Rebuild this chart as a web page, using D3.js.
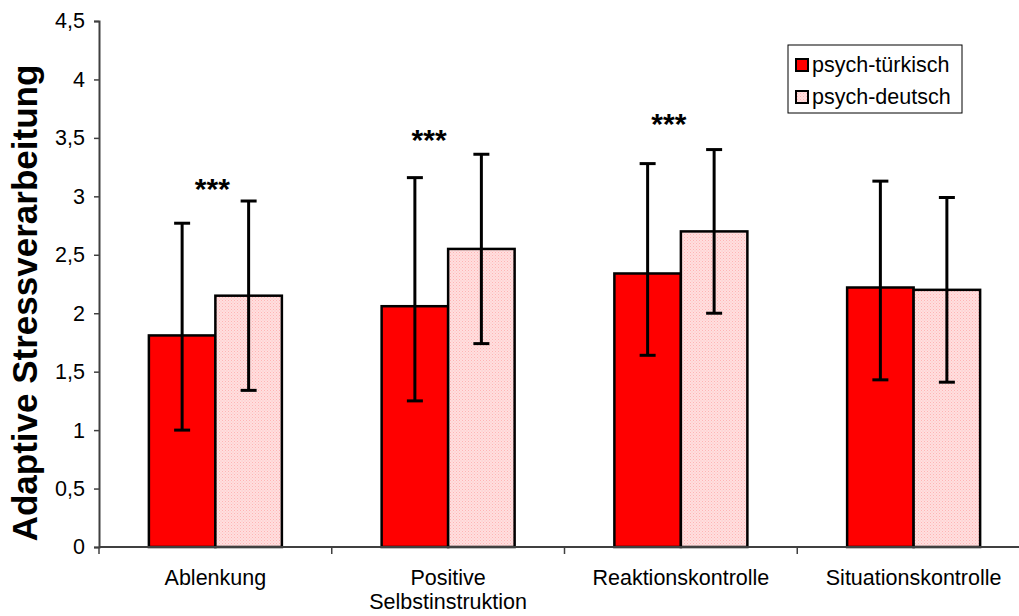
<!DOCTYPE html>
<html>
<head>
<meta charset="utf-8">
<script src="https://cdn.jsdelivr.net/npm/d3@7"></script>
<style>
  body { margin: 0; background: #ffffff; }
  text { font-family: "Liberation Sans", Arial, sans-serif; }
</style>
</head>
<body>
<svg id="chart" width="1019" height="616"></svg>
<script>
// Coping scores by strategy, two groups, with error bars
const categories = ["Ablenkung", "Positive\nSelbstinstruktion", "Reaktionskontrolle", "Situationskontrolle"];
const seriesNames = ["psych-türkisch", "psych-deutsch"];
const meansTuerkisch = [1.81, 2.06, 2.34, 2.22];
const meansDeutsch   = [2.15, 2.55, 2.70, 2.20];
const lowTuerkisch   = [1.00, 1.25, 1.64, 1.43];
const highTuerkisch  = [2.77, 3.16, 3.28, 3.13];
const lowDeutsch     = [1.34, 1.74, 2.00, 1.41];
const highDeutsch    = [2.96, 3.36, 3.40, 2.99];
const significance   = ["***", "***", "***", ""];
const significanceAt = [2.98, 3.40, 3.53, null];
const yTicks = [0, 0.5, 1, 1.5, 2, 2.5, 3, 3.5, 4, 4.5];
const yTickLabels = ["0", "0,5", "1", "1,5", "2", "2,5", "3", "3,5", "4", "4,5"];

const svg = d3.select("#chart");
const plotLeft = 99, plotRight = 1030, plotTop = 21, plotBottom = 547;
const labelSize = 21.5;

const defs = svg.append("defs");
const pat = defs.append("pattern")
  .attr("id", "dots").attr("patternUnits", "userSpaceOnUse")
  .attr("width", 3).attr("height", 3);
pat.append("rect").attr("width", 3).attr("height", 3).attr("fill", "#ffdfdf");
pat.append("rect").attr("x", 0).attr("y", 0).attr("width", 1).attr("height", 1).attr("fill", "#ffb4b4");
pat.append("rect").attr("x", 1.5).attr("y", 1.5).attr("width", 1).attr("height", 1).attr("fill", "#ffc2c2");

const x = d3.scaleBand().domain(categories).range([plotLeft, plotRight]).padding(0);
const y = d3.scaleLinear().domain([0, 4.5]).range([plotBottom, plotTop]);
const barW = 66.5;

const series = [
  { name: seriesNames[0], means: meansTuerkisch, lo: lowTuerkisch, hi: highTuerkisch, fill: "#ff0000", off: -barW },
  { name: seriesNames[1], means: meansDeutsch,   lo: lowDeutsch,   hi: highDeutsch,   fill: "url(#dots)", off: 0 }
];

const center = c => x(c) + x.bandwidth() / 2;

// bars
series.forEach(s => {
  svg.append("g").selectAll("rect").data(categories).join("rect")
    .attr("x", c => center(c) + s.off)
    .attr("y", (c, i) => y(s.means[i]))
    .attr("width", barW)
    .attr("height", (c, i) => y(0) - y(s.means[i]))
    .attr("fill", s.fill)
    .attr("stroke", "#000").attr("stroke-width", 2.5);
});

// error bars
series.forEach(s => {
  const g = svg.append("g").attr("stroke", "#000").attr("stroke-width", 3);
  categories.forEach((c, i) => {
    const cx = center(c) + s.off + barW / 2;
    g.append("line").attr("x1", cx).attr("x2", cx).attr("y1", y(s.lo[i])).attr("y2", y(s.hi[i]));
    [s.lo[i], s.hi[i]].forEach(v => {
      g.append("line").attr("x1", cx - 8).attr("x2", cx + 8).attr("y1", y(v)).attr("y2", y(v));
    });
  });
});

// significance markers (nudged slightly left of the group centre)
const sigNudge = [-3, -19, -12, 0];
svg.append("g").selectAll("text").data(categories.filter((c, i) => significance[i])).join("text")
  .attr("x", c => center(c) + sigNudge[categories.indexOf(c)])
  .attr("y", c => y(significanceAt[categories.indexOf(c)]))
  .attr("text-anchor", "middle")
  .attr("font-size", 30).attr("font-weight", "bold")
  .text(c => significance[categories.indexOf(c)]);

// y axis
const yAxis = d3.axisLeft(y).tickValues(yTicks).tickSize(5).tickPadding(9)
  .tickFormat((d, i) => yTickLabels[i]);
const gy = svg.append("g").attr("transform", `translate(${plotLeft},0)`).call(yAxis);
gy.select(".domain").attr("stroke", "#404040").attr("stroke-width", 2);
gy.selectAll(".tick line").attr("stroke", "#404040").attr("stroke-width", 1.5);
gy.selectAll(".tick text").attr("font-size", labelSize).attr("fill", "#000")
  .attr("font-family", "Liberation Sans, Arial, sans-serif");

// x axis
const gx = svg.append("g").attr("transform", `translate(0,${plotBottom})`);
gx.append("line").attr("x1", plotLeft).attr("x2", plotRight).attr("stroke", "#404040").attr("stroke-width", 2);
const bounds = d3.range(categories.length + 1).map(i => plotLeft + i * x.bandwidth());
gx.selectAll("line.tk").data(bounds).join("line").attr("class", "tk")
  .attr("x1", d => d).attr("x2", d => d).attr("y1", 0).attr("y2", 7)
  .attr("stroke", "#404040").attr("stroke-width", 1.5);
gx.selectAll("text.cat").data(categories).join("text").attr("class", "cat")
  .attr("text-anchor", "middle").attr("font-size", labelSize)
  .each(function (c) {
    const t = d3.select(this);
    c.split("\n").forEach((line, k) => {
      t.append("tspan").attr("x", center(c)).attr("y", 38 + k * 24).text(line);
    });
  });

// y title
svg.append("text")
  .attr("transform", `translate(37,303) rotate(-90)`)
  .attr("text-anchor", "middle").attr("font-size", 35).attr("font-weight", "bold")
  .text("Adaptive Stressverarbeitung");

// legend
const lg = svg.append("g").attr("transform", "translate(788,45)");
lg.append("rect").attr("width", 174).attr("height", 68).attr("fill", "#fff")
  .attr("stroke", "#000").attr("stroke-width", 1);
series.forEach((s, i) => {
  lg.append("rect").attr("x", 8).attr("y", 14 + i * 32).attr("width", 12).attr("height", 12)
    .attr("fill", s.fill).attr("stroke", "#000").attr("stroke-width", 2);
  lg.append("text").attr("x", 24).attr("y", 27 + i * 32).attr("font-size", labelSize).text(s.name);
});
</script>
</body>
</html>
